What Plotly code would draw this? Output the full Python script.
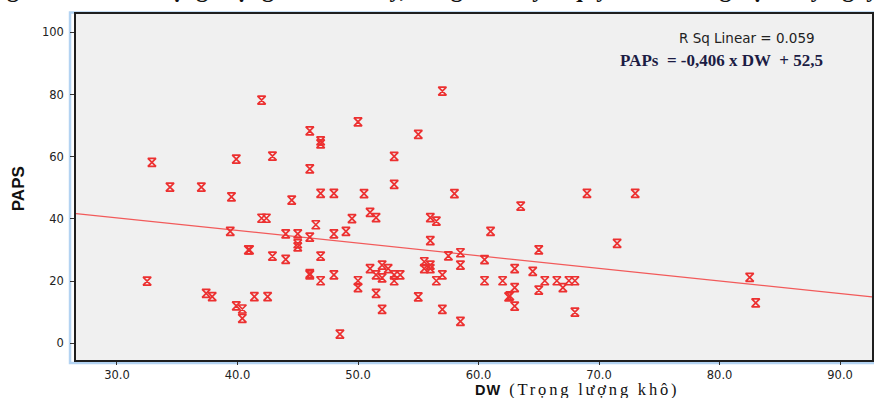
import plotly.graph_objects as go

# Dry weight (DW) and PAPS for each sample
dw = [32.5, 32.9, 34.4, 37.0, 37.4, 37.9, 39.5, 39.4, 39.9, 39.9,
      40.4, 40.4, 40.9, 41.0, 41.4, 42.0, 42.0, 42.4, 42.5, 42.9,
      42.9, 44.0, 44.0, 44.5, 45.0, 45.0, 45.0, 46.0, 46.0, 46.0,
      46.0, 46.0, 46.5, 46.9, 46.9, 46.9, 46.9, 46.9, 48.0, 48.0,
      48.0, 48.5, 49.0, 49.5, 50.0, 50.0, 50.0, 50.5, 51.0, 51.0,
      51.5, 51.5, 51.5, 52.0, 52.0, 52.0, 52.5, 53.0, 53.0, 53.0,
      53.0, 53.5, 55.0, 55.0, 55.5, 55.5, 56.0, 56.0, 56.0, 56.0,
      56.5, 56.5, 57.0, 57.0, 57.0, 57.5, 58.0, 58.5, 58.5, 58.5,
      60.5, 60.5, 61.0, 62.0, 62.5, 62.6, 63.0, 63.0, 63.0, 63.5,
      64.5, 65.0, 65.0, 65.5, 66.5, 67.0, 67.5, 68.0, 68.0, 69.0,
      71.5, 73.0, 82.5, 83.0]
paps = [20.0, 58.2, 50.2, 50.2, 16.0, 15.0, 47.1, 36.0, 59.2, 12.0,
        11.0, 8.0, 30.0, 30.0, 15.0, 78.2, 40.2, 40.2, 15.0, 60.2,
        28.0, 35.2, 27.0, 46.0, 35.2, 32.0, 31.0, 68.3, 56.1, 34.1,
        22.0, 22.4, 38.1, 65.1, 64.1, 48.2, 28.0, 20.1, 48.2, 35.2,
        22.0, 2.9, 36.0, 40.1, 71.2, 20.1, 17.9, 48.1, 42.1, 24.0,
        40.4, 22.0, 16.0, 25.1, 21.0, 10.9, 24.0, 60.1, 51.1, 22.0,
        20.1, 22.0, 67.2, 14.9, 26.2, 24.0, 40.4, 33.0, 25.1, 24.0,
        39.3, 20.1, 81.1, 22.0, 10.9, 28.1, 48.1, 29.1, 25.1, 7.0,
        26.9, 20.1, 36.0, 20.1, 14.9, 15.2, 24.0, 17.9, 11.9, 44.1,
        23.1, 30.0, 17.1, 20.1, 20.1, 17.9, 20.1, 20.1, 10.0, 48.2,
        32.1, 48.2, 21.2, 13.0]

# Linear fit reported on the chart
slope = -0.406
intercept = 52.5
r_squared = 0.059

x_ticks = [30, 40, 50, 60, 70, 80, 90]
x_tick_labels = ["30.0", "40.0", "50.0", "60.0", "70.0", "80.0", "90.0"]
y_ticks = [0, 20, 40, 60, 80, 100]

x_range = [26.6, 92.65]
y_range = [-5.4, 105.9]

fit_x = list(x_range)
fit_y = [slope * v + intercept for v in fit_x]

fig = go.Figure()

fig.add_trace(go.Scatter(
    x=fit_x, y=fit_y, mode="lines",
    line=dict(color="#f25a5a", width=1.2),
    hoverinfo="skip", showlegend=False,
))

fig.add_trace(go.Scatter(
    x=dw, y=paps, mode="markers",
    marker=dict(symbol="hourglass-open", size=8,
                color="#ec3030", line=dict(color="#ec3030", width=1.7)),
    showlegend=False,
))

tick_font = dict(family="DejaVu Sans, Arial, sans-serif", size=11.5, color="#222222")

fig.update_xaxes(
    range=x_range, tickvals=x_ticks, ticktext=x_tick_labels,
    showgrid=False, zeroline=False,
    showline=True, linecolor="#1e1e1e", linewidth=1.5, mirror=True,
    ticks="outside", ticklen=3, tickcolor="#333333", tickwidth=1,
    tickfont=tick_font,
)
fig.update_yaxes(
    range=y_range, tickvals=y_ticks,
    showgrid=False, zeroline=False,
    showline=True, linecolor="#1e1e1e", linewidth=1.5, mirror=True,
    ticks="outside", ticklen=4, tickcolor="#333333", tickwidth=1,
    tickfont=tick_font, ticklabelstandoff=4,
)

annotations = [
    # chart heading, mostly above the visible page edge
    dict(text="<b>Tương quan giữa PAPS và trọng lượng khô của cây, dòng lúa này ở quy trình thí nghiệm cấy ngày đầu tiên ấy</b>",
         xref="paper", yref="paper", x=0.452, y=1.029,
         xanchor="center", yanchor="bottom", showarrow=False,
         font=dict(family="Liberation Serif, Times New Roman, serif", size=24, color="#111111")),
    dict(text=f"R Sq Linear = {r_squared:.3f}",
         xref="paper", yref="paper", x=0.8434, y=0.9306,
         xanchor="center", yanchor="middle", showarrow=False,
         font=dict(family="DejaVu Sans, Arial, sans-serif", size=13.5, color="#222222")),
    dict(text=("<b>PAPs  = " + f"{slope:.3f}".replace(".", ",")
               + " x DW  + " + f"{intercept:.1f}".replace(".", ",") + "</b>"),
         xref="paper", yref="paper", x=0.811, y=0.867,
         xanchor="center", yanchor="middle", showarrow=False,
         font=dict(family="Liberation Serif, Times New Roman, serif", size=17, color="#1c1c44")),
    dict(text="<b>PAPS</b>", textangle=-90,
         xref="paper", yref="paper", x=-0.0727, y=0.494,
         xanchor="center", yanchor="middle", showarrow=False,
         font=dict(family="Liberation Sans Narrow, Arial Narrow, sans-serif", size=17, color="#111111")),
    dict(text=("<span style='letter-spacing:1px'><b>DW</b></span>  "
               "<span style='font-family:Liberation Serif, Times New Roman, serif;"
               "font-size:16.5px;letter-spacing:2.8px'>(Trọng lượng khô)</span>"),
         xref="paper", yref="paper", x=0.629, y=-0.085,
         xanchor="center", yanchor="middle", showarrow=False,
         font=dict(family="Liberation Sans, Arial, sans-serif", size=14.5, color="#111111")),
]

# light blue chart frame around the plotting area
shapes = [
    dict(type="rect", xref="paper", yref="paper",
         x0=-0.0075, x1=1.02, y0=-0.0087, y1=1.0045,
         line=dict(color="#b3d3f2", width=2.5), fillcolor="rgba(0,0,0,0)",
         layer="below"),
]

fig.update_layout(
    width=874, height=398,
    margin=dict(l=76, r=0, t=14, b=38),
    paper_bgcolor="white", plot_bgcolor="#f0f0f0",
    annotations=annotations, shapes=shapes,
    showlegend=False,
)

fig.write_html("out.html")
